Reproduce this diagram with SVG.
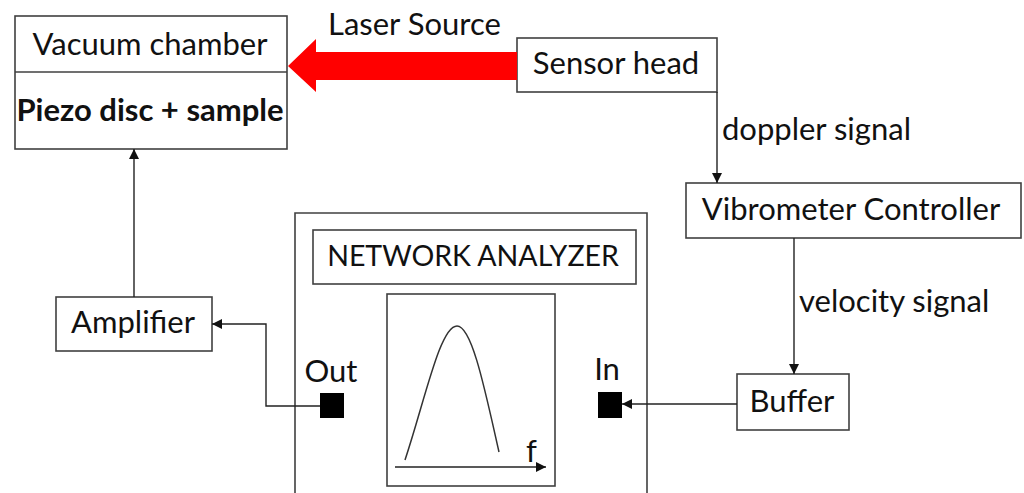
<svg xmlns="http://www.w3.org/2000/svg" width="1024" height="493" viewBox="0 0 1024 493">
<defs>
<style>
.box{fill:#fff;stroke:#404040;stroke-width:1.6}
.t{font-family:Lato,"Open Sans",sans-serif;font-size:31px;fill:#111}
.c{text-anchor:middle}
.b{font-weight:bold}
.ln{fill:none;stroke:#222;stroke-width:1.4}
</style>
<marker id="ah" viewBox="0 0 10 10" refX="10" refY="5" markerWidth="10" markerHeight="10" markerUnits="userSpaceOnUse" orient="auto">
<path d="M0,0 L10,5 L0,10 z" fill="#111"/>
</marker>
</defs>
<rect width="1024" height="493" fill="#fff"/>

<g id="vacuum-chamber">
<rect class="box" x="15" y="16" width="272" height="133"/>
<line x1="15" y1="72" x2="287" y2="72" stroke="#404040" stroke-width="1.6"/>
<text class="t c" x="150" y="55">Vacuum chamber</text>
<text class="t c b" x="150" y="121">Piezo disc + sample</text>
</g>

<g id="sensor-head">
<rect class="box" x="517" y="38" width="200" height="54"/>
<text class="t c" x="616" y="74">Sensor head</text>
</g>

<g id="vibrometer-controller">
<rect class="box" x="686" y="183" width="335" height="55"/>
<text class="t c" x="851" y="220">Vibrometer Controller</text>
</g>

<g id="buffer">
<rect class="box" x="737" y="374" width="112" height="56"/>
<text class="t c" x="792" y="412">Buffer</text>
</g>

<g id="amplifier">
<rect class="box" x="56" y="297" width="156" height="54"/>
<text class="t c" x="133" y="333">Amplifier</text>
</g>

<g id="network-analyzer">
<path class="box" d="M295,495 L295,213 L647,213 L647,495"/>
<rect class="box" x="313" y="230" width="323" height="54"/>
<text class="t c" x="473" y="266" style="font-size:28.5px">NETWORK ANALYZER</text>
<rect class="box" x="387" y="294" width="168" height="192"/>
<path d="M405,460 C425,400 440,326 457,326 C472,326 485,390 499,452" fill="none" stroke="#333" stroke-width="1.5"/>
<line x1="395" y1="467" x2="546" y2="467" stroke="#222" stroke-width="1.5" marker-end="url(#ah)"/>
<text class="t" x="526" y="462">f</text>
<rect x="320" y="393" width="24" height="25" fill="#000"/>
<text class="t c" x="331" y="382">Out</text>
<rect x="598" y="392" width="24" height="26" fill="#000"/>
<text class="t c" x="607" y="380">In</text>
</g>

<g id="laser-source">
<polygon points="288,66 316,39 316,52 517,52 517,80 316,80 316,92" fill="#ff0000"/>
<text class="t" x="328" y="35">Laser Source</text>
</g>

<g id="connectors">
<line class="ln" x1="717" y1="92" x2="717" y2="183" marker-end="url(#ah)"/>
<text class="t" x="722" y="140">doppler signal</text>
<line class="ln" x1="794" y1="238" x2="794" y2="374" marker-end="url(#ah)"/>
<text class="t" x="799" y="312">velocity signal</text>
<line class="ln" x1="737" y1="404" x2="622" y2="404" marker-end="url(#ah)"/>
<polyline class="ln" points="320,406 266,406 266,324 212,324" marker-end="url(#ah)"/>
<line class="ln" x1="134" y1="297" x2="134" y2="149" marker-end="url(#ah)"/>
</g>
</svg>
